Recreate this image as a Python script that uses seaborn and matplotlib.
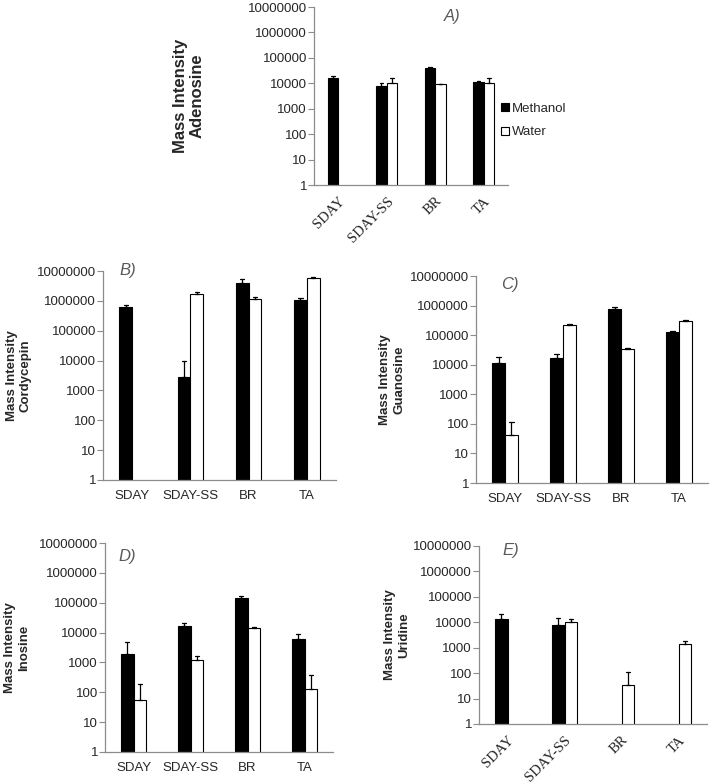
import pandas as pd
import matplotlib.pyplot as plt
from matplotlib.patches import Patch
from matplotlib.ticker import FixedLocator, NullLocator
import seaborn as sns

sns.set_style('white')
plt.rcParams['font.family'] = ['Liberation Sans', 'DejaVu Sans']

categories = ['SDAY', 'SDAY-SS', 'BR', 'TA']
solvents = ['Methanol', 'Water']
ytick_values = [1, 10, 100, 1000, 10000, 100000, 1000000, 10000000]
ytick_labels = [str(v) for v in ytick_values]

# bar heights and the top of each error bar (None = no bar)
adenosine_meoh = [15600, 7900, 38500, 10900]
adenosine_meoh_top = [19000, 10000, 44000, 12000]
adenosine_water = [None, 10600, 9100, 10600]
adenosine_water_top = [None, 16000, 9100, 16000]

cordycepin_meoh = [630000, 2900, 4000000, 1100000]
cordycepin_meoh_top = [700000, 9500, 5200000, 1200000]
cordycepin_water = [None, 1750000, 1140000, 6000000]
cordycepin_water_top = [None, 2000000, 1360000, 6300000]

guanosine_meoh = [11000, 17000, 775000, 129000]
guanosine_meoh_top = [18500, 23000, 925000, 139000]
guanosine_water = [42, 216000, 33500, 290000]
guanosine_water_top = [120, 245000, 37000, 313000]

inosine_meoh = [1900, 17000, 140000, 6000]
inosine_meoh_top = [4800, 21000, 167000, 9000]
inosine_water = [56, 1170, 14700, 132]
inosine_water_top = [185, 1680, 15400, 365]

uridine_meoh = [13500, 7600, None, None]
uridine_meoh_top = [22000, 14400, None, None]
uridine_water = [None, 10600, 35, 1400]
uridine_water_top = [None, 13500, 107, 1770]


def make_frame(meoh, meoh_top, water, water_top):
    """Two rows per bar: the value and the top of its error bar."""
    rows = []
    for solvent, vals, tops in [('Methanol', meoh, meoh_top), ('Water', water, water_top)]:
        for cat, v, t in zip(categories, vals, tops):
            if v is None:
                continue
            rows.append((cat, solvent, v))
            rows.append((cat, solvent, t))
    return pd.DataFrame(rows, columns=['sample', 'solvent', 'intensity'])


def draw_panel(ax, df, ylabel, label_x, label_size, rotate):
    sns.barplot(ax=ax, data=df, x='sample', y='intensity', hue='solvent',
                order=categories, hue_order=solvents,
                palette={'Methanol': 'black', 'Water': 'white'}, saturation=1,
                width=0.44, edgecolor='black', linewidth=0.8,
                estimator='min', errorbar=lambda v: (v.min(), v.max()),
                capsize=0.15, err_kws={'color': 'black', 'linewidth': 0.9},
                legend=False)
    ax.set_yscale('log', nonpositive='clip')
    ax.set_ylim(1, 1e7)
    ax.yaxis.set_major_locator(FixedLocator(ytick_values))
    ax.yaxis.set_minor_locator(NullLocator())
    ax.set_yticklabels(ytick_labels)
    ax.set_xlabel('')
    ax.set_ylabel(ylabel, fontsize=label_size, fontweight='bold')
    ax.yaxis.set_label_coords(label_x, 0.5)
    sns.despine(ax=ax)
    for side in ['left', 'bottom']:
        ax.spines[side].set_color('#8c8c8c')
        ax.spines[side].set_linewidth(0.9)
    ax.tick_params(axis='y', direction='out', length=4, width=0.8, color='#8c8c8c',
                   pad=1, labelsize=9.5, left=True)
    ax.tick_params(axis='x', length=0, pad=7, labelsize=9.5)
    if rotate:
        for t in ax.get_xticklabels():
            t.set_rotation(45)
            t.set_ha('right')
            t.set_rotation_mode('anchor')
            t.set_family(['Liberation Serif', 'DejaVu Serif'])
            t.set_fontsize(10.5)


W, H = 711, 782
fig = plt.figure(figsize=(W / 100, H / 100), dpi=100)


def px_axes(left, top, right, bottom):
    return fig.add_axes([left / W, 1 - bottom / H, (right - left) / W, (bottom - top) / H])


ax_a = px_axes(314, 7, 508, 185)
ax_b = px_axes(103, 271, 336, 480)
ax_c = px_axes(476, 276, 708, 483)
ax_d = px_axes(105, 543, 333, 752)
ax_e = px_axes(479, 546, 707, 724)

draw_panel(ax_a, make_frame(adenosine_meoh, adenosine_meoh_top, adenosine_water, adenosine_water_top),
           'Mass Intensity\nAdenosine', -0.562, 12, True)
draw_panel(ax_b, make_frame(cordycepin_meoh, cordycepin_meoh_top, cordycepin_water, cordycepin_water_top),
           'Mass Intensity\nCordycepin', -0.305, 9.5, False)
draw_panel(ax_c, make_frame(guanosine_meoh, guanosine_meoh_top, guanosine_water, guanosine_water_top),
           'Mass Intensity\nGuanosine', -0.306, 9.5, False)
draw_panel(ax_d, make_frame(inosine_meoh, inosine_meoh_top, inosine_water, inosine_water_top),
           'Mass Intensity\nInosine', -0.329, 9.5, False)
draw_panel(ax_e, make_frame(uridine_meoh, uridine_meoh_top, uridine_water, uridine_water_top),
           'Mass Intensity\nUridine', -0.303, 9.5, True)

# panel letters
for letter, x, y in [('A)', 452, 17), ('B)', 128, 271), ('C)', 510, 284),
                     ('D)', 127, 557), ('E)', 511, 551)]:
    fig.text(x / W, 1 - y / H, letter, fontsize=12, style='italic', color='#595959',
             ha='center', va='center')

handles = [Patch(facecolor='black', edgecolor='black', linewidth=0.8, label='Methanol'),
           Patch(facecolor='white', edgecolor='black', linewidth=0.8, label='Water')]
fig.legend(handles=handles, loc='center left', bbox_to_anchor=(501 / W, 1 - 120.5 / H),
           frameon=False, fontsize=9.5, handlelength=0.6, handleheight=0.6,
           handletextpad=0.25, labelspacing=0.9, borderpad=0, borderaxespad=0)

fig.savefig('out.png', dpi=100)
